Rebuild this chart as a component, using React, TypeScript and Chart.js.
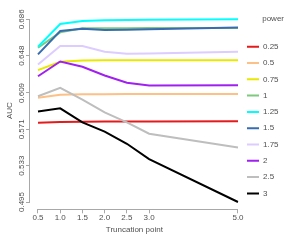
import React, { useEffect, useRef } from "react";
import { Chart, registerables } from "chart.js";

Chart.register(...registerables);

const TRUNCATION = [0.5, 1.0, 1.5, 2.0, 2.5, 3.0, 5.0];
const POWERS = ["0.25", "0.5", "0.75", "1", "1.25", "1.5", "1.75", "2", "2.5", "3"];
const AUC_025 = [0.5779, 0.5786, 0.579, 0.5791, 0.5792, 0.5792, 0.5793];
const AUC_050 = [0.6041, 0.607, 0.6076, 0.6077, 0.6078, 0.6078, 0.608];
const AUC_075 = [0.6328, 0.6416, 0.643, 0.6431, 0.6431, 0.6431, 0.6431];
const AUC_100 = [0.6563, 0.6724, 0.6766, 0.6766, 0.6767, 0.6768, 0.677];
const AUC_125 = [0.6573, 0.6811, 0.6843, 0.685, 0.6853, 0.6856, 0.686];
const AUC_150 = [0.6493, 0.6737, 0.6762, 0.6748, 0.675, 0.6755, 0.6773];
const AUC_175 = [0.6388, 0.658, 0.658, 0.6521, 0.65, 0.6503, 0.6521];
const AUC_200 = [0.6265, 0.6419, 0.6364, 0.6272, 0.6196, 0.6167, 0.6171];
const AUC_250 = [0.6055, 0.6143, 0.602, 0.5887, 0.5782, 0.5664, 0.552];
const AUC_300 = [0.5895, 0.5929, 0.5782, 0.5685, 0.5559, 0.5398, 0.495];
const SERIES = [AUC_025, AUC_050, AUC_075, AUC_100, AUC_125, AUC_150, AUC_175, AUC_200, AUC_250, AUC_300];
const COLORS = ["#E41A1C", "#FDC086", "#E8E800", "#7FC97F", "#00FFFF", "#386CB0", "#DDCCFF", "#A020F0", "#BEBEBE", "#000000"];
const Y_TICKS = [0.495, 0.533, 0.571, 0.609, 0.648, 0.686];
const X_TICKS = [0.5, 1.0, 1.5, 2.0, 2.5, 3.0, 5.0];

const AXIS_COLOR = "#A8A8A8";
const TEXT_COLOR = "#505050";
const FONT = "'Liberation Sans', Arial, sans-serif";

const axisLines = {
  id: "axisLines",
  afterDraw(chart: any) {
    const { ctx, scales, chartArea } = chart;
    const x = scales.x;
    const y = scales.y;
    ctx.save();
    ctx.strokeStyle = AXIS_COLOR;
    ctx.lineWidth = 1;
    ctx.beginPath();
    const yy = Math.round(chartArea.bottom) + 0.5;
    ctx.moveTo(x.getPixelForValue(X_TICKS[0]), yy);
    ctx.lineTo(x.getPixelForValue(X_TICKS[X_TICKS.length - 1]), yy);
    const xx = Math.round(chartArea.left) - 0.5;
    ctx.moveTo(xx, y.getPixelForValue(Y_TICKS[0]));
    ctx.lineTo(xx, y.getPixelForValue(Y_TICKS[Y_TICKS.length - 1]));
    ctx.stroke();
    ctx.restore();
  },
};

export default function App() {
  const ref = useRef<HTMLCanvasElement | null>(null);
  useEffect(() => {
    if (!ref.current) return;
    const datasets = SERIES.map((vals, i) => ({
      label: POWERS[i],
      data: vals.map((v, j) => ({ x: TRUNCATION[j], y: v })),
      borderColor: COLORS[i],
      backgroundColor: COLORS[i],
      borderWidth: 2,
      pointRadius: 0,
      tension: 0,
      fill: false,
      order: -i,
    }));
    const chart = new Chart(ref.current, {
      type: "line",
      data: { datasets },
      plugins: [axisLines],
      options: {
        animation: false,
        responsive: false,
        layout: { padding: { top: 12, right: 16, bottom: 0, left: 0 } },
        plugins: {
          tooltip: { enabled: false },
          legend: {
            position: "right",
            align: "start",
            maxWidth: 45.3,
            title: {
              display: true,
              text: "power",
              position: "end",
              color: TEXT_COLOR,
              font: { family: FONT, size: 8 },
              padding: { top: 2.3, bottom: 10.5 },
            },
            labels: {
              usePointStyle: true,
              pointStyle: "line",
              pointStyleWidth: 12,
              boxWidth: 12,
              padding: 8.3,
              color: TEXT_COLOR,
              font: { family: FONT, size: 8 },
              sort: (a: any, b: any) => a.datasetIndex - b.datasetIndex,
            },
          },
        },
        scales: {
          x: {
            type: "linear",
            min: 0.32,
            max: 5.0158,
            afterBuildTicks: (scale: any) => {
              scale.ticks = X_TICKS.map((v) => ({ value: v }));
            },
            afterFit: (scale: any) => {
              scale.height = 30.7;
            },
            grid: { drawOnChartArea: false, drawTicks: true, tickLength: 4, color: AXIS_COLOR },
            border: { display: false },
            ticks: {
              autoSkip: false,
              maxRotation: 0,
              minRotation: 0,
              padding: -0.8,
              color: TEXT_COLOR,
              font: { family: FONT, size: 8 },
              callback: (v: any) => Number(v).toFixed(1),
            },
            title: {
              display: true,
              text: "Truncation point",
              color: TEXT_COLOR,
              font: { family: FONT, size: 8 },
              padding: { top: 0, bottom: 5.2 },
            },
          },
          y: {
            type: "linear",
            min: 0.48737,
            max: 0.69363,
            afterBuildTicks: (scale: any) => {
              scale.ticks = Y_TICKS.map((v) => ({ value: v }));
            },
            afterFit: (scale: any) => {
              scale.width = 30;
            },
            grid: { drawOnChartArea: false, drawTicks: true, tickLength: 4, color: AXIS_COLOR },
            border: { display: false },
            ticks: {
              autoSkip: false,
              minRotation: 90,
              maxRotation: 90,
              crossAlign: "center",
              padding: -5.5,
              color: TEXT_COLOR,
              font: { family: FONT, size: 8 },
              callback: (v: any) => Number(v).toFixed(3),
            },
            title: {
              display: true,
              text: "AUC",
              color: TEXT_COLOR,
              font: { family: FONT, size: 8 },
              padding: { top: 5.2, bottom: 0 },
            },
          },
        },
      },
    } as any);
    return () => chart.destroy();
  }, []);
  return (
    <div style={{ position: "fixed", left: 0, top: 0, width: 300, height: 240, background: "#fff" }}>
      <canvas ref={ref} width={300} height={240} style={{ display: "block", width: 300, height: 240 }} />
    </div>
  );
}
